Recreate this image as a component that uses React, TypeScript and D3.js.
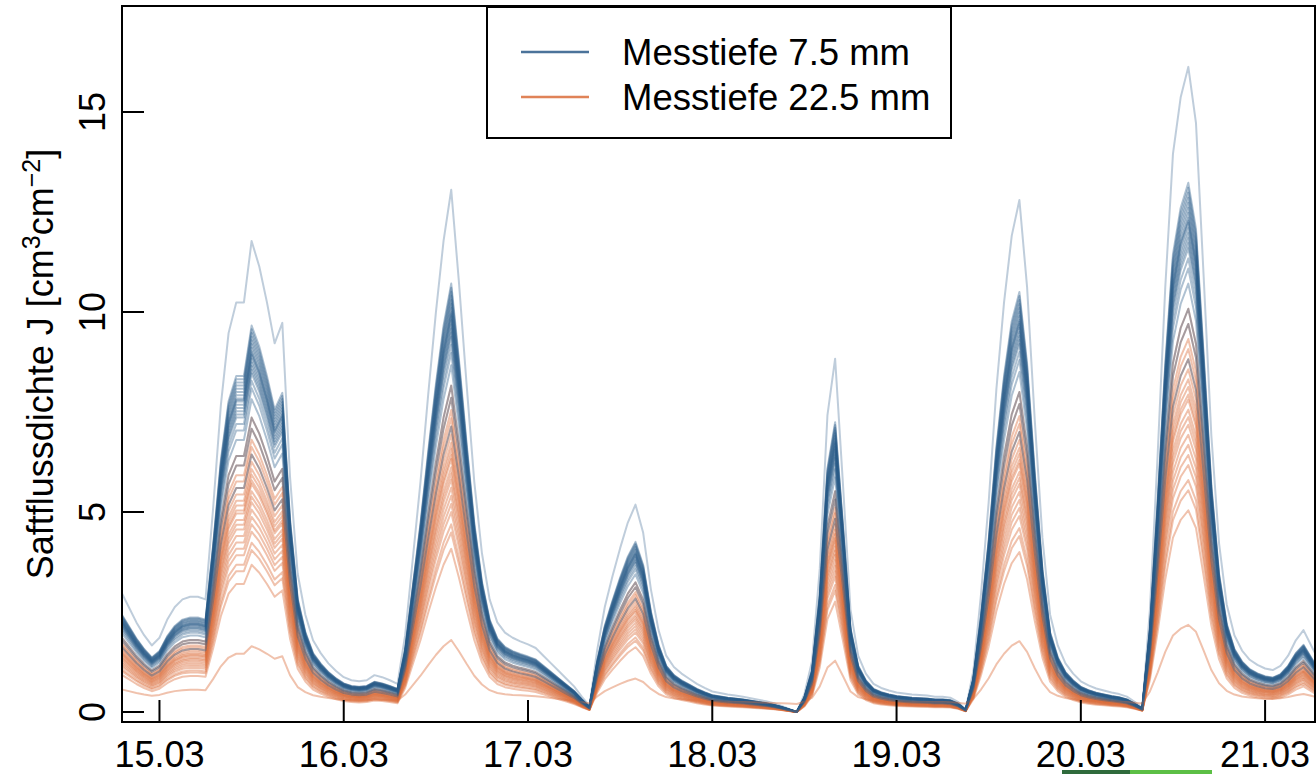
import React from "react";
import * as d3 from "d3";

// hourly time axis: hour 0 = 15.03 00:00
const START_HOUR = -5;

// typical (median) sap flux profile of the 7.5 mm sensors, hourly
const baseProfile = [
  2.35, 2.05, 1.75, 1.5, 1.3, // -5 .. -1
  1.45, 1.8, 2.05, 2.2, 2.25, 2.25, 2.2, 4.0, 6.0, 7.4, 8.0, 8.0, 9.2, 8.7, 8.0, 7.2, 7.6, 4.6, 2.7, 1.9, 1.4, 1.15, 0.95, 0.8, // 0..23
  0.68, 0.62, 0.6, 0.62, 0.72, 0.68, 0.62, 0.55, 1.5, 3.0, 4.5, 6.2, 7.8, 9.2, 10.2, 8.4, 6.4, 4.5, 3.1, 2.2, 1.75, 1.55, 1.45, 1.38, // 24..47
  1.32, 1.25, 1.1, 0.95, 0.8, 0.65, 0.5, 0.3, 0.12, 1.2, 2.05, 2.65, 3.2, 3.7, 4.05, 3.5, 2.4, 1.6, 1.1, 0.88, 0.75, 0.65, 0.55, 0.47, // 48..71
  0.4, 0.37, 0.34, 0.32, 0.3, 0.27, 0.24, 0.21, 0.17, 0.12, 0.06, 0.0, 0.35, 1.0, 2.8, 5.8, 6.9, 4.5, 2.0, 1.1, 0.75, 0.55, 0.47, 0.42, // 72..95
  0.38, 0.36, 0.34, 0.33, 0.32, 0.3, 0.3, 0.28, 0.2, 0.05, 0.8, 2.3, 4.1, 6.3, 8.0, 9.3, 10.0, 8.3, 5.7, 3.4, 1.9, 1.3, 0.95, 0.75, // 96..119
  0.6, 0.52, 0.46, 0.42, 0.38, 0.35, 0.3, 0.2, 0.08, 2.0, 5.0, 8.3, 10.9, 12.0, 12.6, 11.5, 8.5, 5.4, 3.3, 2.1, 1.5, 1.2, 1.02, 0.92, // 120..143
  0.85, 0.82, 0.9, 1.1, 1.4, 1.6, 1.3, 1.0, // 144..151
];

// per-sensor [scale, offset] relative to the profile
const blueSensors = [
  [1.28, 0], [1.05, 0], [1.04, 0], [1.03, 0], [1.02, 0], [1.01, 0], [1.0, 0], [0.99, 0],
  [0.98, 0], [0.975, 0], [0.97, 0], [0.96, 0], [0.95, 0], [0.94, 0], [0.93, 0], [0.92, 0],
  [0.9, 0], [0.88, 0], [0.85, 0], [0.8, 0], [0.77, 0], [0.7, 0],
];
const orangeSensors = [
  [0.8, 0], [0.77, 0], [0.74, 0], [0.72, 0], [0.7, 0], [0.68, 0], [0.66, 0], [0.645, 0],
  [0.63, 0], [0.62, 0], [0.6, 0], [0.585, 0], [0.57, 0], [0.55, 0], [0.53, 0], [0.51, 0],
  [0.49, 0], [0.46, 0], [0.44, 0], [0.4, 0], [0.157, 0.2],
];

const dayLabels = ["15.03", "16.03", "17.03", "18.03", "19.03", "20.03", "21.03"];
const dayHours = [0, 24, 48, 72, 96, 120, 144];
const yTicks = [0, 5, 10, 15];
const legendLabels = ["Messtiefe 7.5 mm", "Messtiefe 22.5 mm"];

const BLUE = "#2b5b88";
const ORANGE = "#db6d3b";
const FONT = "'Liberation Sans', Arial, Helvetica, sans-serif";

export default function App() {
  const W = 1316, H = 774;
  const left = 122, right = 1315, top = 6, bottom = 722;
  const x = d3.scaleLinear().domain([-4.88, 150.5]).range([left, right]);
  const y = d3.scaleLinear().domain([-0.25, 17.65]).range([bottom, top]);

  const line = d3
    .line<number>()
    .x((_, i) => x(START_HOUR + i))
    .y((v) => y(v));

  const series = (s: number[]) => baseProfile.map((v) => s[0] * v + s[1]);

  const paths: React.ReactNode[] = [];
  const n = Math.max(blueSensors.length, orangeSensors.length);
  for (let i = 0; i < n; i++) {
    if (i < orangeSensors.length) {
      paths.push(
        <path key={"o" + i} d={line(series(orangeSensors[i])) || ""} fill="none"
          stroke={ORANGE} strokeOpacity={0.42} strokeWidth={2} strokeLinejoin="round" />
      );
    }
    if (i < blueSensors.length) {
      paths.push(
        <path key={"b" + i} d={line(series(blueSensors[i])) || ""} fill="none"
          stroke={BLUE} strokeOpacity={i === 0 ? 0.3 : 0.38} strokeWidth={2} strokeLinejoin="round" />
      );
    }
  }

  return (
    <svg width={W} height={H} style={{ position: "absolute", left: 0, top: 0, background: "#fff" }}
      fontFamily={FONT}>
      <defs>
        <clipPath id="plotclip">
          <rect x={left} y={top} width={right - left} height={bottom - top} />
        </clipPath>
      </defs>
      <rect x={0} y={0} width={W} height={H} fill="#fff" />
      <g clipPath="url(#plotclip)">{paths}</g>

      {/* axes box */}
      <rect x={left} y={top} width={right - left} height={bottom - top} fill="none" stroke="#000" strokeWidth={2} />

      {/* y ticks */}
      {yTicks.map((t) => (
        <g key={"yt" + t}>
          <line x1={left} x2={left + 22} y1={y(t)} y2={y(t)} stroke="#000" strokeWidth={2} />
          <text transform={`translate(105, ${y(t)}) rotate(-90)`} textAnchor="middle" fontSize={36} fill="#000">
            {t}
          </text>
        </g>
      ))}

      {/* x ticks */}
      {dayHours.map((h, i) => (
        <g key={"xt" + h}>
          <line x1={x(h)} x2={x(h)} y1={bottom} y2={bottom - 22} stroke="#000" strokeWidth={2} />
          <text x={x(h)} y={767} textAnchor="middle" fontSize={36} fill="#000">
            {dayLabels[i]}
          </text>
        </g>
      ))}

      {/* y-axis title */}
      <text transform={`translate(53, ${(top + bottom) / 2}) rotate(-90)`} textAnchor="middle" fontSize={36} fill="#000">
        Saftflussdichte J [cm
        <tspan dy={-13} fontSize={25}>3</tspan>
        <tspan dy={13}>cm</tspan>
        <tspan dy={-13} fontSize={25}>−2</tspan>
        <tspan dy={13}>]</tspan>
      </text>

      {/* legend */}
      <rect x={487} y={7} width={464} height={131} fill="#fff" stroke="#000" strokeWidth={2} />
      {legendLabels.map((lab, i) => (
        <g key={lab}>
          <line x1={521} x2={589} y1={52 + i * 45} y2={52 + i * 45}
            stroke={i === 0 ? BLUE : ORANGE} strokeOpacity={0.85} strokeWidth={2.5} />
          <text x={622} y={65 + i * 45} fontSize={36.5} fill="#000">{lab}</text>
        </g>
      ))}

      {/* green bar fragment at the bottom edge */}
      <rect x={1062} y={770} width={68} height={4} fill="#2f6b3c" />
      <rect x={1130} y={770} width={82} height={4} fill="#5cbf45" />
    </svg>
  );
}
